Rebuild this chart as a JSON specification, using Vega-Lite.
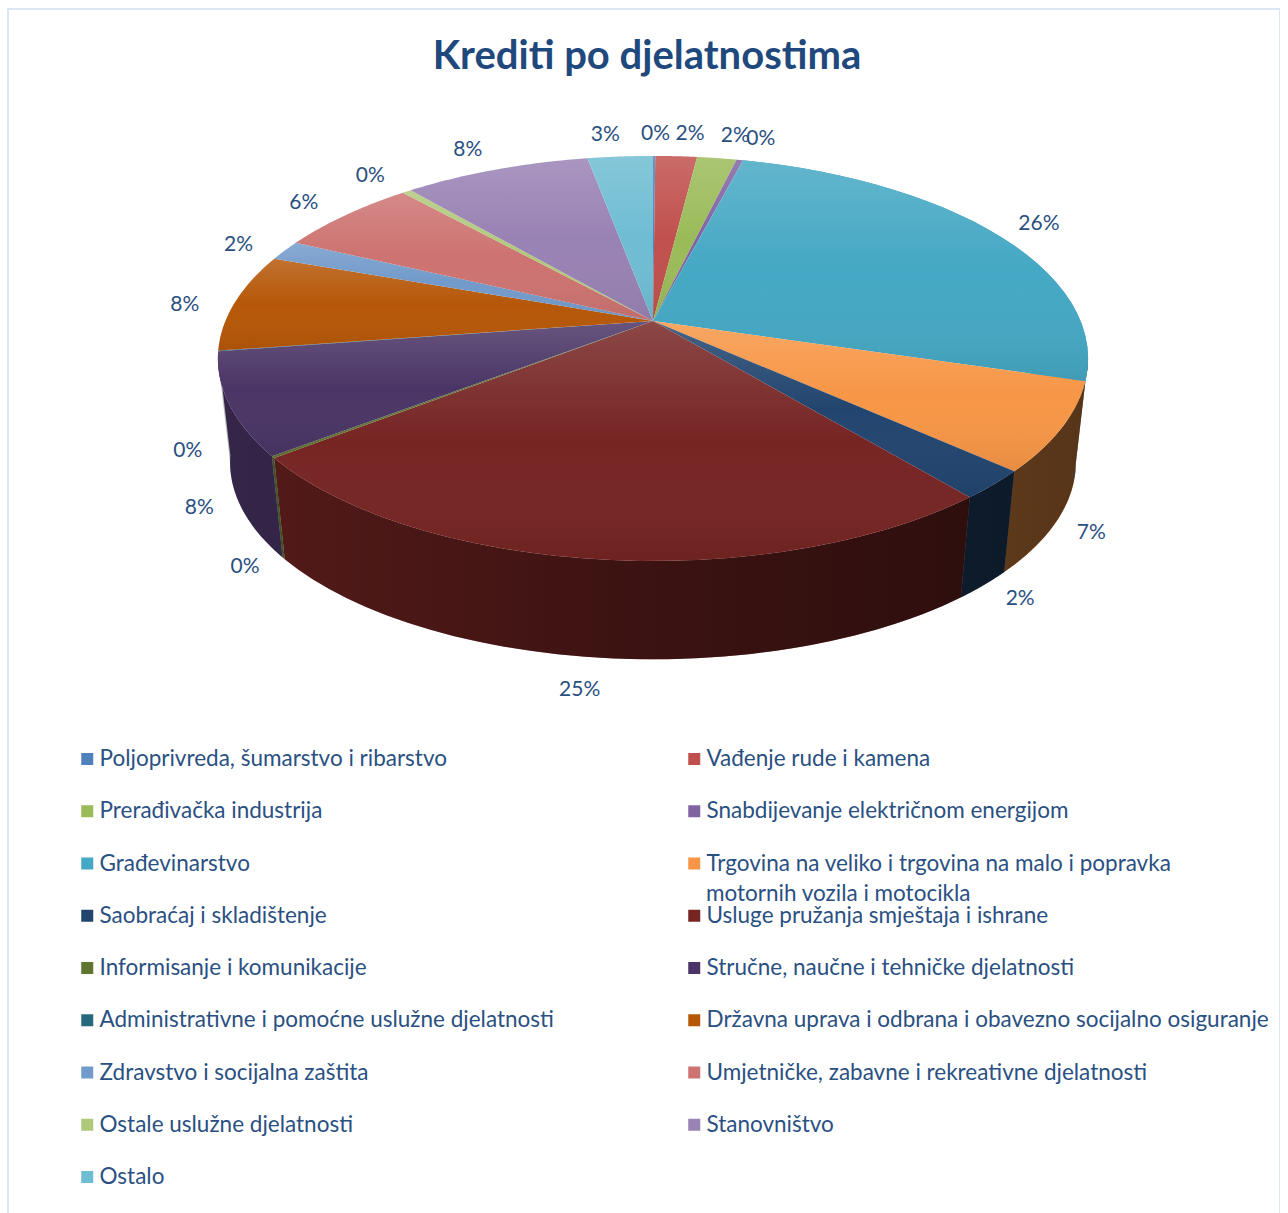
{
"$schema":"https://vega.github.io/schema/vega-lite/v6.json",
"width":1272,"height":1205,
"padding":{"left":8,"top":9,"right":0,"bottom":0},
"autosize":{"type":"none"},
"background":"white",
"view":{"stroke":"#DCE6F4","strokeWidth":2},
"title":{"text":"Krediti po djelatnostima","font":"Lato","fontSize":40,"fontWeight":"bold","color":"#1F497D","anchor":"middle","frame":"group","baseline":"alphabetic","dy":104,"dx":3},
"config":{"font":"Lato"},
"data":{"values":[
{"i":1,"name":"Poljoprivreda, šumarstvo i ribarstvo","value":0.001},
{"i":2,"name":"Vađenje rude i kamena","value":0.0185},
{"i":3,"name":"Prerađivačka industrija","value":0.0175},
{"i":4,"name":"Snabdijevanje električnom energijom","value":0.003},
{"i":5,"name":"Građevinarstvo","value":0.257},
{"i":6,"name":"Trgovina na veliko i trgovina na malo i popravka motornih vozila i motocikla","value":0.0705},
{"i":7,"name":"Saobraćaj i skladištenje","value":0.023},
{"i":8,"name":"Usluge pružanja smještaja i ishrane","value":0.253},
{"i":9,"name":"Informisanje i komunikacije","value":0.0015},
{"i":10,"name":"Stručne, naučne i tehničke djelatnosti","value":0.081},
{"i":11,"name":"Administrativne i pomoćne uslužne djelatnosti","value":0.0005},
{"i":12,"name":"Državna uprava i odbrana i obavezno socijalno osiguranje","value":0.0785},
{"i":13,"name":"Zdravstvo i socijalna zaštita","value":0.016},
{"i":14,"name":"Umjetničke, zabavne i rekreativne djelatnosti","value":0.063},
{"i":15,"name":"Ostale uslužne djelatnosti","value":0.004},
{"i":16,"name":"Stanovništvo","value":0.083},
{"i":17,"name":"Ostalo","value":0.029}
]},
"encoding":{
"x":{"field":"X","type":"quantitative","scale":{"domain":[-645,627],"nice":false,"zero":false},"axis":null},
"y":{"field":"Y","type":"quantitative","scale":{"domain":[-893,312],"nice":false,"zero":false},"axis":null}
},
"layer":[
{
"transform":[
{"stack":"value","groupby":[],"sort":[{"field":"i","order":"ascending"}],"as":["a0","a1"],"offset":"normalize"},
{"filter":"datum.a0<0.72 && datum.a1>0.28"},
{"calculate":"sequence(0,60)","as":"k"},{"flatten":["k"]},
{"calculate":"datum.k<30?datum.k/29:(59-datum.k)/29","as":"t"},
{"calculate":"2*PI*(datum.a0+(datum.a1-datum.a0)*datum.t)","as":"th"},
{"calculate":"(datum.k<30?1:0.972)*427.6*sin(datum.th)/(1+0.185*cos(datum.th))","as":"X"},
{"calculate":"(datum.k<30?1:0.972)*195.6*cos(datum.th)/(1+0.185*cos(datum.th))-(datum.k<30?0:105)","as":"Y"}
],
"mark":{"type":"line","filled":true,"clip":true},
"encoding":{
"order":{"field":"k","type":"quantitative"},
"fill":{"field":"name","type":"nominal","sort":{"field":"i"}}
}
},
{
"transform":[
{"aggregate":[{"op":"count","as":"n"}]},
{"calculate":"sequence(0,122)","as":"k"},{"flatten":["k"]},
{"calculate":"datum.k<=60?datum.k/60:(121-datum.k)/60","as":"t"},
{"calculate":"2*PI*(100.7+158.6*datum.t)/360","as":"th"},
{"calculate":"(datum.k<=60?1:0.972)*427.6*sin(datum.th)/(1+0.185*cos(datum.th))","as":"X"},
{"calculate":"(datum.k<=60?1:0.972)*195.6*cos(datum.th)/(1+0.185*cos(datum.th))-(datum.k<=60?0:105)","as":"Y"}
],
"mark":{"type":"line","filled":true,"fill":{"gradient":"linear","x1":0,"x2":1,"y1":0,"y2":0,"stops":[{"offset":0,"color":"rgba(0,0,0,0.28)"},{"offset":0.5,"color":"rgba(0,0,0,0.5)"},{"offset":1,"color":"rgba(0,0,0,0.65)"}]}},
"encoding":{"order":{"field":"k","type":"quantitative"}}
},
{
"transform":[
{"stack":"value","groupby":[],"sort":[{"field":"i","order":"ascending"}],"as":["a0","a1"],"offset":"normalize"},
{"calculate":"sequence(0,31)","as":"k"},{"flatten":["k"]},
{"calculate":"2*PI*(datum.a0+(datum.a1-datum.a0)*(datum.k-1)/29)","as":"th"},
{"calculate":"(datum.k==0?0:1)*427.6*sin(datum.th)/(1+0.185*cos(datum.th))","as":"X"},
{"calculate":"(datum.k==0?0:1)*195.6*cos(datum.th)/(1+0.185*cos(datum.th))","as":"Y"}
],
"mark":{"type":"line","filled":true},
"encoding":{
"order":{"field":"k","type":"quantitative"},
"fill":{"field":"name","type":"nominal","sort":{"field":"i"},
"scale":{"domain":["Poljoprivreda, šumarstvo i ribarstvo","Vađenje rude i kamena","Prerađivačka industrija","Snabdijevanje električnom energijom","Građevinarstvo","Trgovina na veliko i trgovina na malo i popravka motornih vozila i motocikla","Saobraćaj i skladištenje","Usluge pružanja smještaja i ishrane","Informisanje i komunikacije","Stručne, naučne i tehničke djelatnosti","Administrativne i pomoćne uslužne djelatnosti","Državna uprava i odbrana i obavezno socijalno osiguranje","Zdravstvo i socijalna zaštita","Umjetničke, zabavne i rekreativne djelatnosti","Ostale uslužne djelatnosti","Stanovništvo","Ostalo"],
"range":["#4F81BD","#C0504D","#9BBB59","#8064A2","#45A8C4","#F79646","#22456F","#762523","#5F7530","#4A3566","#276A7C","#B65708","#729ACA","#CD7371","#AFC97A","#9982B4","#6FBDD3"]},
"legend":{"title":null,"orient":"none","legendX":68,"legendY":736,"direction":"horizontal","columns":2,"columnPadding":129,"rowPadding":24.25,"clipHeight":28,"symbolType":"square","symbolSize":144,"symbolStrokeWidth":0,"labelFont":"Lato","labelFontSize":22.5,"labelColor":"#2A5082","labelLimit":700,"labelOffset":1,"gridAlign":"each","labelExpr":"replace(datum.label,' motornih vozila i motocikla','')"}}
}
},
{
"transform":[
{"stack":"value","groupby":[],"sort":[{"field":"i","order":"ascending"}],"as":["a0","a1"],"offset":"normalize"},
{"calculate":"sequence(0,31)","as":"k"},{"flatten":["k"]},
{"calculate":"2*PI*(datum.a0+(datum.a1-datum.a0)*(datum.k-1)/29)","as":"th"},
{"calculate":"(datum.k==0?0:1)*427.6*sin(datum.th)/(1+0.185*cos(datum.th))","as":"X"},
{"calculate":"(datum.k==0?0:1)*195.6*cos(datum.th)/(1+0.185*cos(datum.th))","as":"Y"}
],
"mark":{"type":"line","filled":true,"fill":{"gradient":"linear","x1":0,"x2":0,"y1":0,"y2":1,"stops":[{"offset":0,"color":"rgba(255,255,255,0.16)"},{"offset":0.5,"color":"rgba(255,255,255,0)"},{"offset":1,"color":"rgba(0,0,0,0.07)"}]}},
"encoding":{"order":{"field":"k","type":"quantitative"},"detail":{"field":"name","type":"nominal"}}
},
{
"transform":[
{"stack":"value","groupby":[],"sort":[{"field":"i","order":"ascending"}],"as":["a0","a1"],"offset":"normalize"},
{"calculate":"PI*(datum.a0+datum.a1)","as":"th"},
{"calculate":"427.6*sin(datum.th)/(1+0.185*cos(datum.th))","as":"X0"},
{"calculate":"195.6*cos(datum.th)/(1+0.185*cos(datum.th))","as":"Y0"},
{"calculate":"datum.Y0<0?datum.X0*1.07+clamp(datum.X0/10,-1,1)*14*pow(datum.Y0/240,4):datum.X0*1.12+clamp(datum.X0/10,-1,1)*11*pow(datum.Y0/165,2)","as":"X"},
{"calculate":"datum.Y0<0?datum.Y0*(1-0.13*datum.Y0/240)-100:1.17*datum.Y0-6","as":"Y"}
],
"mark":{"type":"text","font":"Lato","fontSize":21,"color":"#2A5082","align":"center","baseline":"middle"},
"encoding":{"text":{"field":"value","type":"quantitative","format":".0%"}}
},
{
"transform":[
{"filter":"datum.i==6"},
{"calculate":"'motornih vozila i motocikla'","as":"line2"},
{"calculate":"53","as":"X"},
{"calculate":"-573","as":"Y"}
],
"mark":{"type":"text","font":"Lato","fontSize":22.5,"color":"#2A5082","align":"left","baseline":"middle"},
"encoding":{"text":{"field":"line2","type":"nominal"}}
}
]
}
